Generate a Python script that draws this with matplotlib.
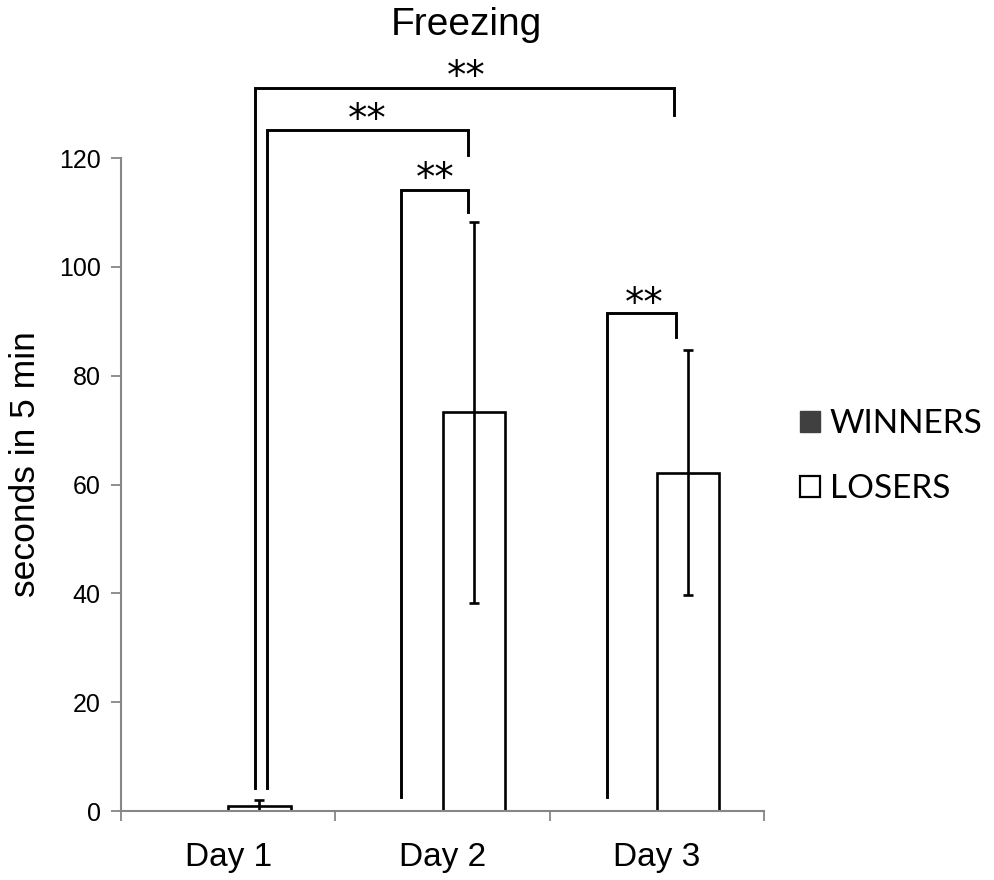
import numpy as np
import matplotlib.pyplot as plt
from matplotlib.patches import Patch

# Freezing data
days = ['Day 1', 'Day 2', 'Day 3']
winners = [0, 0, 0]
losers = [1.0, 73.3, 62.2]
losers_err = [1.0, 35.0, 22.5]

# significance brackets: x left, y left foot, y top, x right, y right foot
br_x_left = [0.125, 0.18, 0.806, 1.77]
br_y_left = [4.2, 4.2, 2.6, 2.6]
br_y_top = [132.9, 125.2, 114.2, 91.6]
br_x_right = [2.08, 1.12, 1.12, 2.09]
br_y_right = [127.9, 120.6, 110.0, 87.2]
star_x = [1.11, 0.647, 0.965, 1.94]
star_y = [135.6, 127.7, 116.9, 93.9]

fig = plt.figure(figsize=(9.95, 8.8), dpi=100)
ax = fig.add_axes([0.122, 0.0784, 0.6455, 0.742])

x = np.arange(len(days))
w = 0.29
ax.bar(x - w / 2, winners, w, color='#404040', label='WINNERS')
ax.bar(x + w / 2, losers, w, color='white', edgecolor='black', linewidth=1.9,
       label='LOSERS')
ax.errorbar(x + w / 2, losers, yerr=losers_err, fmt='none', ecolor='black',
            elinewidth=1.9, capsize=3.3, capthick=1.9)

for xl, yl, yt, xr, yr, sx, sy in zip(br_x_left, br_y_left, br_y_top,
                                      br_x_right, br_y_right, star_x, star_y):
    ax.plot([xl, xl, xr, xr], [yl, yt, yt, yr], color='black', lw=2.1,
            clip_on=False, solid_joinstyle='miter')
    ax.text(sx, sy, '**', ha='center', va='center_baseline', fontsize=28,
            family='DejaVu Sans', clip_on=False)

ax.set_xlim(-0.5, 2.5)
ax.set_ylim(0, 120)
ax.set_yticks(np.arange(0, 121, 20))
ax.set_xticks(x)
ax.set_xticklabels(days, fontsize=24, family='Liberation Sans')
ax.set_xticks(np.arange(-0.5, 2.6, 1), minor=True)
ax.tick_params(axis='x', which='major', length=0, pad=22)
ax.tick_params(axis='x', which='minor', length=7, width=1.3, color='#868686')
ax.tick_params(axis='y', length=7, width=1.3, color='#868686', labelsize=18,
               pad=8)
for lab in ax.get_yticklabels():
    lab.set_family('Liberation Sans')

for s in ['top', 'right']:
    ax.spines[s].set_visible(False)
for s in ['left', 'bottom']:
    ax.spines[s].set_color('#868686')
    ax.spines[s].set_linewidth(1.5)

ax.set_ylabel('seconds in 5 min', fontsize=25.5, family='Liberation Sans')
ax.yaxis.set_label_coords(-0.124, 0.531)
fig.text(0.469, 0.972, 'Freezing', ha='center', va='center', fontsize=28,
         family='Liberation Sans')

handles = [Patch(facecolor='#404040', edgecolor='#404040'),
           Patch(facecolor='white', edgecolor='black', linewidth=1.6)]
ax.legend(handles, ['WINNERS', 'LOSERS'], loc='center left',
          bbox_to_anchor=(0.804, 0.481), bbox_transform=fig.transFigure,
          frameon=False, prop={'family': 'Lato', 'size': 24},
          handlelength=0.6, handleheight=0.6, handletextpad=0.3,
          labelspacing=1.05, borderpad=0.0, borderaxespad=0.0)

fig.savefig('out.png', dpi=100)
